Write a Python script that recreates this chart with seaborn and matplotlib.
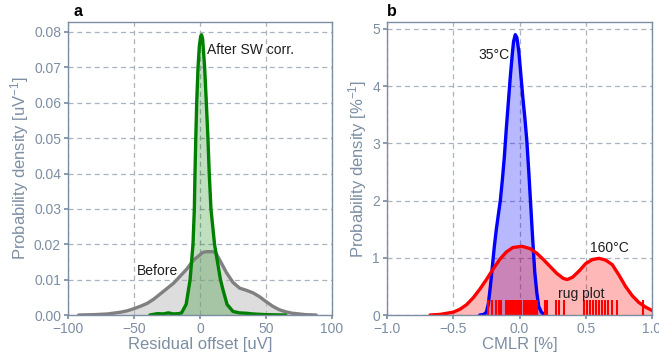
"""
Residual offset / CMLR density panels
=====================================
Two-panel density figure: (a) residual offset before and after SW
correction, (b) CMLR at 35°C and 160°C with rug plot.
"""

# ─────────────────────────────────────────────
# 0. IMPORTS
# ─────────────────────────────────────────────
import matplotlib
matplotlib.use("Agg")
import matplotlib.pyplot as plt
import seaborn as sns

# ─────────────────────────────────────────────
# 1. DATA
# ─────────────────────────────────────────────
# panel a – before correction
before_x = [-92, -80, -70, -60, -55, -50, -45, -40, -35, -30, -25, -20, -15,
            -10, -5, 0, 2, 5, 10, 12, 15, 20, 25, 30, 35, 40, 45, 50, 55,
            60, 65, 70, 80, 88]
before_y = [0.0, 0.0001, 0.0003, 0.0008, 0.0012, 0.0018, 0.0025, 0.0033,
            0.0045, 0.006, 0.0075, 0.009, 0.011, 0.013, 0.0155, 0.017,
            0.0177, 0.0179, 0.0179, 0.0175, 0.0155, 0.012, 0.0092, 0.0076,
            0.007, 0.0063, 0.0052, 0.0038, 0.0025, 0.0015, 0.0009, 0.0005,
            0.0001, 0.0]

# panel a – after SW correction
after_x = [-38, -32, -28, -24, -20, -16, -14, -10.5, -7.5, -5.3, -4.3, -3.8,
           -3.2, -2.5, -1.5, -0.5, 0.5, 1.2, 2.0, 3.5, 4.8, 6.0, 7.0, 8.3,
           11, 15.5, 17.5, 20.5, 25, 30, 35, 40, 50, 65]
after_y = [0.0, 0.0004, 0.0003, 0.0006, 0.0003, 0.0004, 0.0006, 0.003, 0.01,
           0.02, 0.03, 0.04, 0.05, 0.06, 0.07, 0.076, 0.0788, 0.0792, 0.078,
           0.07, 0.06, 0.05, 0.04, 0.03, 0.02, 0.01, 0.007, 0.003, 0.001,
           0.0006, 0.0005, 0.0003, 0.0001, 0.0]

# panel b – 35°C
cold_x = [-0.30, -0.27, -0.25, -0.235, -0.22, -0.205, -0.19, -0.175, -0.16,
          -0.145, -0.13, -0.115, -0.10, -0.085, -0.07, -0.055, -0.045,
          -0.032, -0.02, -0.005, 0.01, 0.025, 0.04, 0.055, 0.07, 0.085,
          0.10, 0.115, 0.13, 0.145, 0.165, 0.19]
cold_y = [0.0, 0.01, 0.05, 0.2, 0.5, 0.85, 1.2, 1.5, 1.75, 2.0, 2.35, 2.75,
          3.25, 3.7, 4.15, 4.55, 4.78, 4.9, 4.85, 4.6, 4.2, 3.8, 3.45,
          3.05, 2.5, 1.9, 1.3, 0.75, 0.4, 0.15, 0.05, 0.0]

# panel b – 160°C
hot_x = [-0.675, -0.6, -0.5, -0.45, -0.4, -0.35, -0.3, -0.25, -0.2, -0.15,
         -0.1, -0.05, 0.02, 0.08, 0.13, 0.18, 0.23, 0.28, 0.33, 0.36, 0.40,
         0.45, 0.5, 0.55, 0.6, 0.65, 0.7, 0.75, 0.8, 0.85, 0.9, 0.95, 1.0]
hot_y = [0.0, 0.01, 0.05, 0.1, 0.18, 0.3, 0.45, 0.62, 0.8, 0.97, 1.1, 1.18,
         1.2, 1.16, 1.08, 0.97, 0.85, 0.73, 0.64, 0.62, 0.66, 0.77, 0.9,
         0.97, 0.99, 0.96, 0.88, 0.7, 0.5, 0.34, 0.22, 0.14, 0.08]

# panel b – 160°C individual samples (rug)
hot_rug = [-0.236, -0.211, -0.176, -0.154, -0.138, -0.105, -0.09, -0.075,
           -0.06, -0.045, -0.032, -0.019, -0.004, 0.014, 0.035, 0.05, 0.06,
           0.075, 0.09, 0.105, 0.12, 0.135, 0.19, 0.21, 0.275, 0.30, 0.335,
           0.49, 0.51, 0.53, 0.555, 0.58, 0.60, 0.62, 0.645, 0.67, 0.70,
           0.735, 0.93]

a_xticks = [-100, -50, 0, 50, 100]
a_yticks = [0.00, 0.01, 0.02, 0.03, 0.04, 0.05, 0.06, 0.07, 0.08]
b_xticks = [-1.0, -0.5, 0.0, 0.5, 1.0]
b_yticks = [0, 1, 2, 3, 4, 5]

# ─────────────────────────────────────────────
# 2. STYLE
# ─────────────────────────────────────────────
SLATE = "#7d8ea3"
GRID = "#a9b3bf"
INK = "#1e1e1e"


def set_style() -> None:
    sns.set_theme(style="whitegrid")
    plt.rcParams.update({
        "font.family": ["Liberation Sans", "DejaVu Sans"],
        "mathtext.fontset": "custom",
        "mathtext.rm": "Liberation Sans",
        "mathtext.it": "Liberation Sans:italic",
        "axes.edgecolor": SLATE,
        "axes.linewidth": 1.0,
        "axes.labelcolor": SLATE,
        "axes.labelsize": 12,
        "xtick.color": SLATE,
        "ytick.color": SLATE,
        "xtick.labelsize": 10,
        "ytick.labelsize": 10,
        "xtick.bottom": True,
        "ytick.left": True,
        "xtick.major.size": 3,
        "ytick.major.size": 3,
        "xtick.major.pad": 2,
        "ytick.major.pad": 2,
        "grid.color": GRID,
        "grid.linestyle": (0, (4, 3)),
        "grid.linewidth": 0.9,
    })


def density(ax, x, y, color, fill, alpha):
    sns.lineplot(x=x, y=y, ax=ax, color=color, lw=2.4, sort=False)
    ax.fill_between(x, y, color=fill, alpha=alpha, lw=0)


# ─────────────────────────────────────────────
# 3. PLOT
# ─────────────────────────────────────────────
def plot_all() -> None:
    fig = plt.figure(figsize=(6.59, 3.62), dpi=100)
    ax_a = fig.add_axes([0.1032, 0.1298, 0.4006, 0.8092])
    ax_b = fig.add_axes([0.5873, 0.1298, 0.4021, 0.8092])

    # a – residual offset
    density(ax_a, before_x, before_y, "grey", "#bdbdbd", 0.5)
    density(ax_a, after_x, after_y, "green", "green", 0.25)
    ax_a.set_xlim(-100, 100)
    ax_a.set_ylim(0, 0.0828)
    ax_a.set_xticks(a_xticks)
    ax_a.set_yticks(a_yticks)
    ax_a.set_yticklabels([f"{v:.2f}" for v in a_yticks])
    ax_a.set_xlabel("Residual offset [uV]", labelpad=1)
    ax_a.set_ylabel("Probability density [uV$^{\\mathrm{-1}}$]", labelpad=2)
    ax_a.text(5, 0.075, "After SW corr.", fontsize=10, color=INK, va="center")
    ax_a.text(-48, 0.0125, "Before", fontsize=10, color=INK, va="center")
    ax_a.text(0.02, 1.012, "a", transform=ax_a.transAxes, fontsize=11.5,
              fontweight="bold", color="black", va="bottom")

    # b – CMLR
    density(ax_b, cold_x, cold_y, "blue", "blue", 0.28)
    density(ax_b, hot_x, hot_y, "red", "red", 0.28)
    sns.rugplot(x=hot_rug, ax=ax_b, color="red", height=0.05, linewidth=1.5)
    ax_b.set_xlim(-1.0, 1.0)
    ax_b.set_ylim(0, 5.12)
    ax_b.set_xticks(b_xticks)
    ax_b.set_yticks(b_yticks)
    ax_b.set_xlabel("CMLR [%]", labelpad=1)
    ax_b.set_ylabel("Probability density [%$^{\\mathrm{-1}}$]", labelpad=2)
    ax_b.text(-0.31, 4.55, "35°C", fontsize=10, color=INK, va="center")
    ax_b.text(0.53, 1.17, "160°C", fontsize=10, color=INK, va="center")
    ax_b.text(0.29, 0.36, "rug plot", fontsize=10, color=INK, va="center")
    ax_b.text(0.0, 1.012, "b", transform=ax_b.transAxes, fontsize=11.5,
              fontweight="bold", color="black", va="bottom")

    for ax in (ax_a, ax_b):
        for side in ax.spines.values():
            side.set_visible(True)
            side.set_color(SLATE)

    fig.savefig("out.png", dpi=100)


# ─────────────────────────────────────────────
# 4. MAIN ENTRYPOINT
# ─────────────────────────────────────────────
def main():
    set_style()
    plot_all()


if __name__ == "__main__":
    main()
